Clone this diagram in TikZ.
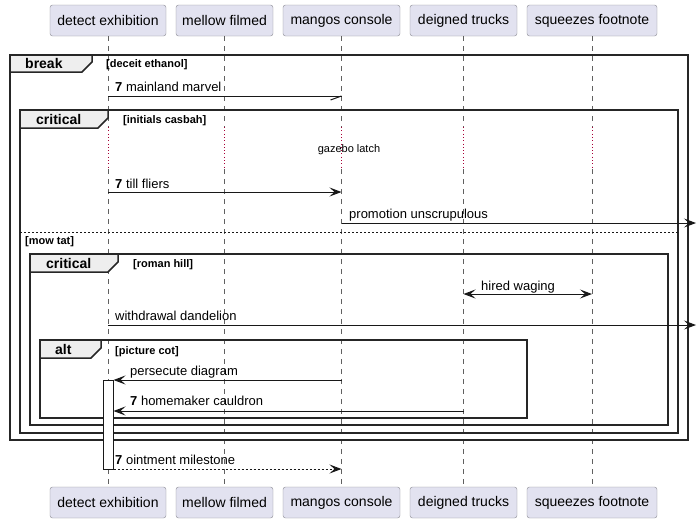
\documentclass[tikz,border=0pt]{standalone}
\usepackage{fontspec}
\setmainfont{Liberation Sans}
\usetikzlibrary{arrows.meta}
\definecolor{pbox}{HTML}{E2E2F0}
\definecolor{pborder}{HTML}{888890}
\definecolor{lc}{HTML}{181818}
\definecolor{tabfill}{HTML}{EEEEEE}
\definecolor{delayc}{HTML}{A80036}
\tikzset{
  part/.style={draw=pborder, fill=pbox, rounded corners=2.5pt, minimum height=31pt, inner sep=0pt, font=\fontsize{14}{16}\selectfont},
  lifeline/.style={draw=gray!75!black, line width=0.5pt, dash pattern=on 5pt off 5pt},
  delayline/.style={draw=delayc, line width=0.9pt, dash pattern=on 0.9pt off 2.4pt},
  msg/.style={font=\fontsize{13}{15}\selectfont, anchor=base west, inner sep=0pt},
  guard/.style={font=\bfseries\fontsize{11}{13}\selectfont, anchor=base west, inner sep=0pt},
  tablabel/.style={font=\bfseries\fontsize{14}{16}\selectfont, anchor=base west, inner sep=0pt},
  frame/.style={draw=black!85, line width=1.5pt},
  msgline/.style={draw=lc, line width=1pt},
  tip/.style={-{Stealth[length=12pt,width=9pt,inset=5pt]}},
  bitip/.style={{Stealth[length=12pt,width=9pt,inset=5pt]}-{Stealth[length=12pt,width=9pt,inset=5pt]}},
  actbar/.style={draw=lc, fill=white, line width=1pt, minimum width=10pt, inner sep=0pt},
}
\begin{document}
\begin{tikzpicture}[x=1pt,y=-1pt]
\useasboundingbox (0,0) rectangle (697,523);
% participants
\node[part, minimum width=116pt] (p1) at (108,20.5) {detect exhibition};
\node[part, minimum width=97pt]  (p2) at (224.5,20.5) {mellow filmed};
\node[part, minimum width=117pt] (p3) at (341.5,20.5) {mangos console};
\node[part, minimum width=107pt] (p4) at (463.5,20.5) {deigned trucks};
\node[part, minimum width=130pt] (p5) at (592,20.5) {squeezes footnote};
\node[part, minimum width=116pt] (b1) at (108,502.5) {detect exhibition};
\node[part, minimum width=97pt]  (b2) at (224.5,502.5) {mellow filmed};
\node[part, minimum width=117pt] (b3) at (341.5,502.5) {mangos console};
\node[part, minimum width=107pt] (b4) at (463.5,502.5) {deigned trucks};
\node[part, minimum width=130pt] (b5) at (592,502.5) {squeezes footnote};
% delay span
\coordinate (da) at (0,127);
\coordinate (db) at (0,169);
\foreach \i in {1,...,5}{
  \draw[lifeline] (p\i.south) -- (p\i.south |- da);
  \draw[delayline] (p\i.south |- da) -- (p\i.south |- db);
  \draw[lifeline] (p\i.south |- db) -- (b\i.north);
}
% frames
\draw[frame] (10,55) rectangle (688,440);
\draw[frame, fill=tabfill] (10,55) -- (92,55) -- (92,62) -- (82,72) -- (10,72) -- cycle;
\node[tablabel] (lbreak) at (25,68.5) {break};
\node[guard] (gbreak) at (106,67) {[deceit ethanol]};

\draw[frame] (20,110) rectangle (678,433);
\draw[frame, fill=tabfill] (20,110) -- (108,110) -- (108,118) -- (98,128) -- (20,128) -- cycle;
\node[tablabel] (lcrit1) at (36,124.5) {critical};
\node[guard] (gcrit1) at (123,123) {[initials casbah]};

\draw[lc, line width=1pt, dash pattern=on 2pt off 2pt] (20,232) -- (678,232);
\node[guard] (gmow) at (25,244) {[mow tat]};

\draw[frame] (30,254) rectangle (668,425);
\draw[frame, fill=tabfill] (30,254) -- (118,254) -- (118,262) -- (108,272) -- (30,272) -- cycle;
\node[tablabel] (lcrit2) at (46,268.5) {critical};
\node[guard] (gcrit2) at (133,267) {[roman hill]};

\draw[frame] (40,340) rectangle (527,418);
\draw[frame, fill=tabfill] (40,340) -- (101,340) -- (101,348) -- (91,358) -- (40,358) -- cycle;
\node[tablabel] (lalt) at (55,354.5) {alt};
\node[guard] (galt) at (115,354) {[picture cot]};

% delay text
\node[font=\fontsize{11}{13}\selectfont, inner sep=0pt] (delay) at (349,150) {gazebo latch};

% message y coordinates
\coordinate (y1) at (0,96);
\coordinate (y2) at (0,192);
\coordinate (y3) at (0,223);
\coordinate (y4) at (0,294);
\coordinate (y5) at (0,325);
\coordinate (y6) at (0,380);
\coordinate (y7) at (0,411);
\coordinate (y8) at (0,469);
\coordinate (edge) at (696,0);

% activation bar
\node[actbar, minimum height=89pt] (act) at (108,424.5) {};

% 1 mainland marvel
\draw[msgline] (p1 |- y1) -- (p3 |- y1);
\draw[msgline] (p3 |- y1) -- ++(-11,4);
\node[msg] (t1) at (115,91) {\textbf{7} mainland marvel};
% 2 till fliers
\draw[msgline, tip] (p1 |- y2) -- (p3 |- y2);
\node[msg] (t2) at (115,188) {\textbf{7} till fliers};
% 3 promotion
\draw[msgline, tip] (p3 |- y3) -- (edge |- y3);
\node[msg] (t3) at (349,218) {promotion unscrupulous};
% 4 hired waging
\draw[msgline, bitip] (p4 |- y4) -- (p5 |- y4);
\node[msg] (t4) at (481,290) {hired waging};
% 5 withdrawal
\draw[msgline, tip] (p1 |- y5) -- (edge |- y5);
\node[msg] (t5) at (115,320) {withdrawal dandelion};
% 6 persecute
\draw[msgline, tip] (p3 |- y6) -- (act.east |- y6);
\node[msg] (t6) at (130,375) {persecute diagram};
% 7 homemaker
\draw[msgline, tip] (p4 |- y7) -- (act.east |- y7);
\node[msg] (t7) at (130,405.5) {\textbf{7} homemaker cauldron};
% 8 ointment
\draw[msgline, tip, dash pattern=on 2pt off 2pt] (act.east |- y8) -- (p3 |- y8);
\node[msg] (t8) at (115,464.5) {\textbf{7} ointment milestone};
\end{tikzpicture}
\end{document}
